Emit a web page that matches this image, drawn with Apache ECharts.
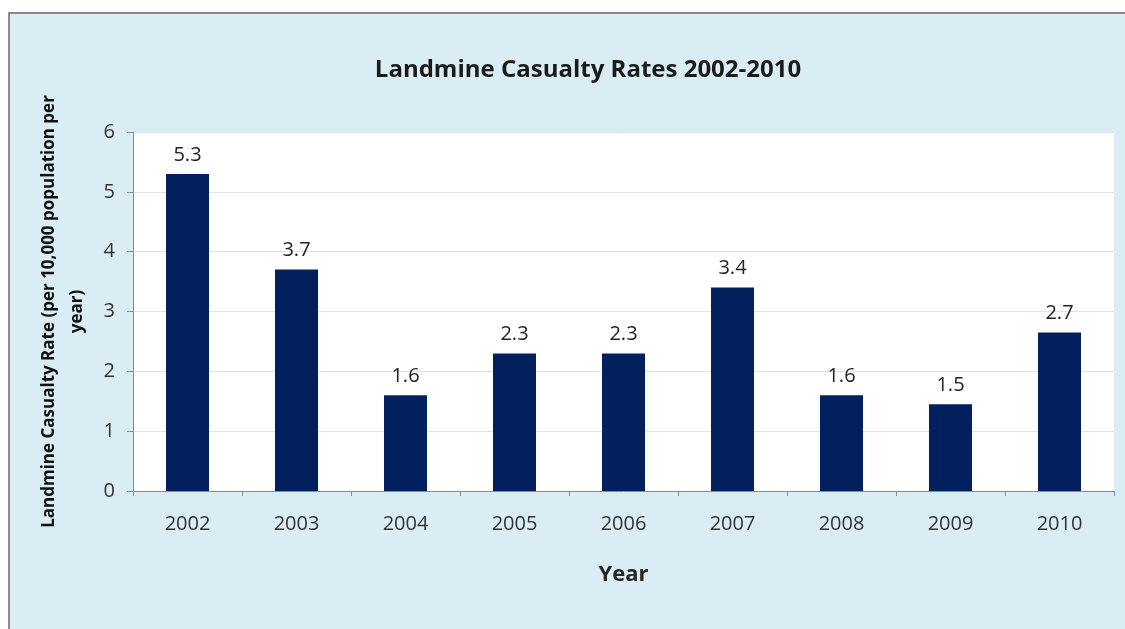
<!DOCTYPE html>
<html>
<head>
<meta charset="utf-8">
<script src="https://cdn.jsdelivr.net/npm/echarts@6/dist/echarts.min.js"></script>
<style>
  html, body { margin: 0; padding: 0; background: #fff; }
  #main { width: 1125px; height: 629px; }
</style>
</head>
<body>
<div id="main"></div>
<script>
var years = ['2002', '2003', '2004', '2005', '2006', '2007', '2008', '2009', '2010'];
var rates = [5.3, 3.7, 1.6, 2.3, 2.3, 3.4, 1.6, 1.45, 2.65];
var rateLabels = ['5.3', '3.7', '1.6', '2.3', '2.3', '3.4', '1.6', '1.5', '2.7'];
var yTicks = [0, 1, 2, 3, 4, 5, 6];

var chart = echarts.init(document.getElementById('main'));
var font = 'Open Sans';

var option = {
  animation: false,
  graphic: [{
    type: 'rect',
    z: -10,
    shape: { x: 9, y: 13, width: 1130, height: 630 },
    style: { fill: '#dbedf4', stroke: '#8a8a8a', lineWidth: 2 }
  }, {
    type: 'rect',
    z: -5,
    shape: { x: 133, y: 132, width: 981, height: 359 },
    style: { fill: '#ffffff' }
  }],
  title: {
    text: 'Landmine Casualty Rates 2002-2010',
    left: 583,
    textAlign: 'center',
    top: 53,
    textStyle: { fontFamily: font, fontSize: 24, fontWeight: 'bold', color: '#1a1a1a' }
  },
  grid: { left: 133, right: 11, top: 132, bottom: 138 },
  xAxis: {
    type: 'category',
    data: years,
    name: 'Year',
    nameLocation: 'middle',
    nameGap: 73,
    nameTextStyle: { fontFamily: font, fontSize: 22, fontWeight: 'bold', color: '#262626' },
    axisLine: { lineStyle: { color: '#8c8c8c' } },
    axisTick: { show: true, length: 5, lineStyle: { color: '#8c8c8c' } },
    axisLabel: { fontFamily: font, fontSize: 20, color: '#333', margin: 23 }
  },
  yAxis: {
    type: 'value',
    min: yTicks[0],
    max: yTicks[yTicks.length - 1],
    interval: 1,
    name: 'Landmine Casualty Rate (per 10,000 population per\nyear)',
    nameLocation: 'middle',
    nameRotate: 90,
    nameGap: 42,
    nameTextStyle: { fontFamily: font, fontSize: 17, fontWeight: 'bold', color: '#111', lineHeight: 28 },
    axisLine: { show: true, lineStyle: { color: '#8c8c8c' } },
    axisTick: { show: true, length: 6, inside: false, lineStyle: { color: '#8c8c8c' } },
    axisLabel: { fontFamily: font, fontSize: 20, color: '#333', margin: 18 },
    splitLine: { lineStyle: { color: '#e3e3e3' } }
  },
  series: [{
    type: 'bar',
    data: rates,
    barWidth: 43,
    itemStyle: { color: '#03205e' },
    label: {
      show: true,
      position: 'top',
      distance: 9,
      fontFamily: font,
      fontSize: 20,
      color: '#222',
      formatter: function (p) { return rateLabels[p.dataIndex]; }
    }
  }]
};

chart.setOption(option);
</script>
</body>
</html>
